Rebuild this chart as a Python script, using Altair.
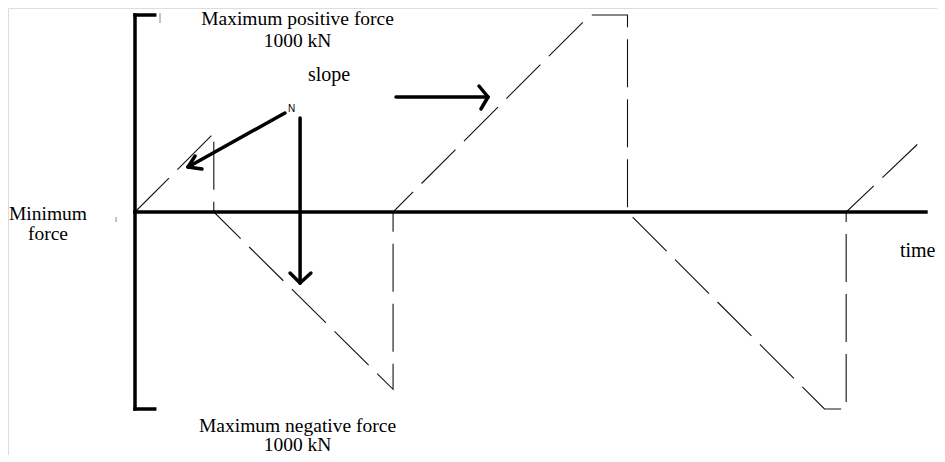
import altair as alt
import pandas as pd

# --- sawtooth force history (time units, kN) ---
time = [0, 0.40, 0.40, 1.31, 1.31, 2.31, 2.50, 2.50, 3.50, 3.61, 3.61, 4.01]
force = [0, 400, 0, -900, 0, 1000, 1000, 0, -1000, -1000, 0, 380]

# --- thick frame: vertical bar with brackets, horizontal time axis ---
frame_t = [0, 0, 0, 0]
frame_f = [-1000, 1000, -1000, 0]
frame_t2 = [0, 0.10, 0.10, 4.015]
frame_f2 = [1000, 1000, -1000, 0]

# --- arrows (shaft + two head strokes each) ---
arrow_t = [0.761, 0.269, 0.269, 0.838, 0.838, 0.838, 1.325, 1.792, 1.792]
arrow_f = [502.5, 228.4, 228.4, 477.2, -360.4, -360.4, 583.8, 583.8, 583.8]
arrow_t2 = [0.269, 0.305, 0.340, 0.838, 0.787, 0.893, 1.792, 1.746, 1.756]
arrow_f2 = [228.4, 284.3, 218.3, -360.4, -309.6, -309.6, 583.8, 639.6, 522.8]

# --- faint stray ticks ---
stray_t = [0.127, -0.096]
stray_f = [1010, -25]
stray_f2 = [959, -51]

# --- labels ---
center_labels = ["Maximum positive force", "1000 kN", "Minimum", "force",
                 "Maximum negative force", "1000 kN"]
center_t = [0.825, 0.825, -0.4416, -0.4416, 0.825, 0.825]
center_f = [950.0, 840.0, -38.1, -142.1, -1119.0, -1215.0]

left_labels = ["slope", "time"]
left_t = [0.878, 3.883]
left_f = [665.0, -228.0]

n_label = ["N"]
n_t = [0.777]
n_f = [507.6]

XDOM = [-0.644670, 4.071066]
YDOM = [-1233.50, 1035.53]


def X(field="t"):
    return alt.X(f"{field}:Q", scale=alt.Scale(domain=XDOM, nice=False, zero=False), axis=None)


def Y(field="f"):
    return alt.Y(f"{field}:Q", scale=alt.Scale(domain=YDOM, nice=False, zero=False), axis=None)


saw = pd.DataFrame({"t": time, "f": force, "i": list(range(len(time)))})
frame = pd.DataFrame({"t": frame_t, "f": frame_f, "t2": frame_t2, "f2": frame_f2})
arrows = pd.DataFrame({"t": arrow_t, "f": arrow_f, "t2": arrow_t2, "f2": arrow_f2})
stray = pd.DataFrame({"t": stray_t, "f": stray_f, "f2": stray_f2})
ctext = pd.DataFrame({"t": center_t, "f": center_f, "label": center_labels})
ltext = pd.DataFrame({"t": left_t, "f": left_f, "label": left_labels})
ntext = pd.DataFrame({"t": n_t, "f": n_f, "label": n_label})

saw_line = alt.Chart(saw).mark_line(
    color="#111111", strokeWidth=1.1, strokeDash=[48, 12], clip=False
).encode(x=X(), y=Y(), order="i:Q")

frame_rules = alt.Chart(frame).mark_rule(
    color="black", strokeWidth=3.5, strokeCap="square"
).encode(x=X(), y=Y(), x2="t2:Q", y2="f2:Q")

arrow_rules = alt.Chart(arrows).mark_rule(
    color="black", strokeWidth=3.5, strokeCap="round"
).encode(x=X(), y=Y(), x2="t2:Q", y2="f2:Q")

stray_rules = alt.Chart(stray).mark_rule(
    color="#888888", strokeWidth=1
).encode(x=X(), y=Y(), y2="f2:Q")

center_txt = alt.Chart(ctext).mark_text(
    font="Liberation Serif", fontSize=19.5, align="center", baseline="alphabetic", color="black"
).encode(x=X(), y=Y(), text="label:N")

left_txt = alt.Chart(ltext).mark_text(
    font="Liberation Serif", fontSize=20, align="left", baseline="alphabetic", color="black"
).encode(x=X(), y=Y(), text="label:N")

n_txt = alt.Chart(ntext).mark_text(
    font="Liberation Sans", fontSize=10, align="left", baseline="alphabetic", color="black"
).encode(x=X(), y=Y(), text="label:N")

chart = alt.layer(
    saw_line, stray_rules, frame_rules, arrow_rules, center_txt, left_txt, n_txt
).properties(
    width=929, height=447,
    autosize=alt.AutoSizeParams(type="none"),
    padding=0,
).configure_view(stroke=None).configure(background="white")

chart.save("out.html", embed_options={"renderer": "svg", "actions": False})
